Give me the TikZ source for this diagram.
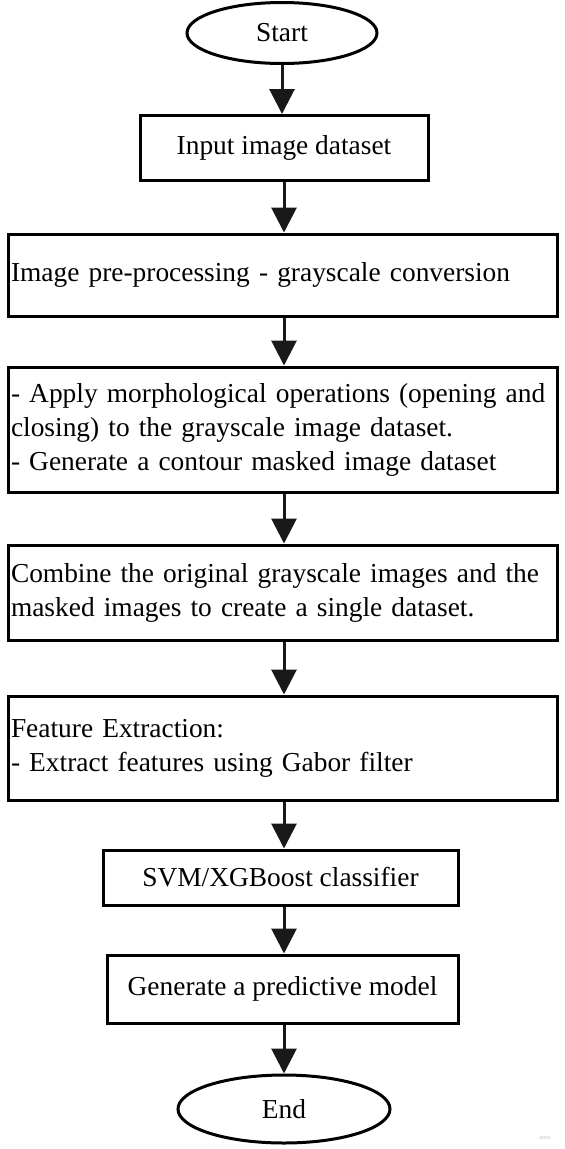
\documentclass[tikz,border=0pt]{standalone}
\usepackage{fontspec}
\setmainfont{Liberation Serif}
\usetikzlibrary{shapes.geometric,arrows.meta}
\begin{document}
\begin{tikzpicture}[x=1pt,y=-1pt,
  every node/.style={font=\fontsize{27.4}{34}\selectfont},
  term/.style={draw,ellipse,line width=3pt,inner sep=0pt},
  boxc/.style={draw,line width=3pt,inner sep=0pt,align=center},
  boxl/.style={draw,line width=3pt,inner xsep=3pt,inner ysep=0pt,align=left,minimum width=549pt,text width=543pt},
  flow/.style={line width=3pt,draw=black!90,-{Triangle[width=25pt,length=25pt]}}]
\useasboundingbox (0,0) rectangle (565,1149);
\node[term,minimum width=190pt,minimum height=61pt] (start) at (282,33) {Start};
\node[boxc,minimum width=288pt,minimum height=65pt] (input) at (284,148) {Input image dataset};
\node[boxl,minimum height=82pt] (pre) at (282.5,275) {Image pre-processing - grayscale conversion};
\node[boxl,minimum height=125pt] (morph) at (282.5,429.5) {- Apply morphological operations (opening and\\closing) to the grayscale image dataset.\\- Generate a contour masked image dataset};
\node[boxl,minimum height=95pt] (comb) at (282.5,592.5) {Combine the original grayscale images and the\\masked images to create a single dataset.};
\node[boxl,minimum height=104pt] (feat) at (282.5,748) {Feature Extraction:\\- Extract features using Gabor filter};
\node[boxc,minimum width=355pt,minimum height=55pt] (svm) at (280.5,877.5) {SVM/XGBoost classifier};
\node[boxc,minimum width=351pt,minimum height=68pt] (gen) at (282.5,989) {Generate a predictive model};
\node[term,minimum width=212pt,minimum height=68pt] (end) at (284,1109) {End};
\node[font=\fontsize{6}{7}\selectfont,text=black!25] (miro) at (545,1138) {miro};
\draw[flow] (start.south) -- (start.south |- input.north);
\draw[flow] (input.south) -- (input.south |- pre.north);
\draw[flow] (input.south |- pre.south) -- (input.south |- morph.north);
\draw[flow] (input.south |- morph.south) -- (input.south |- comb.north);
\draw[flow] (input.south |- comb.south) -- (input.south |- feat.north);
\draw[flow] (input.south |- feat.south) -- (input.south |- svm.north);
\draw[flow] (input.south |- svm.south) -- (input.south |- gen.north);
\draw[flow] (input.south |- gen.south) -- (end.north);
\end{tikzpicture}
\end{document}
